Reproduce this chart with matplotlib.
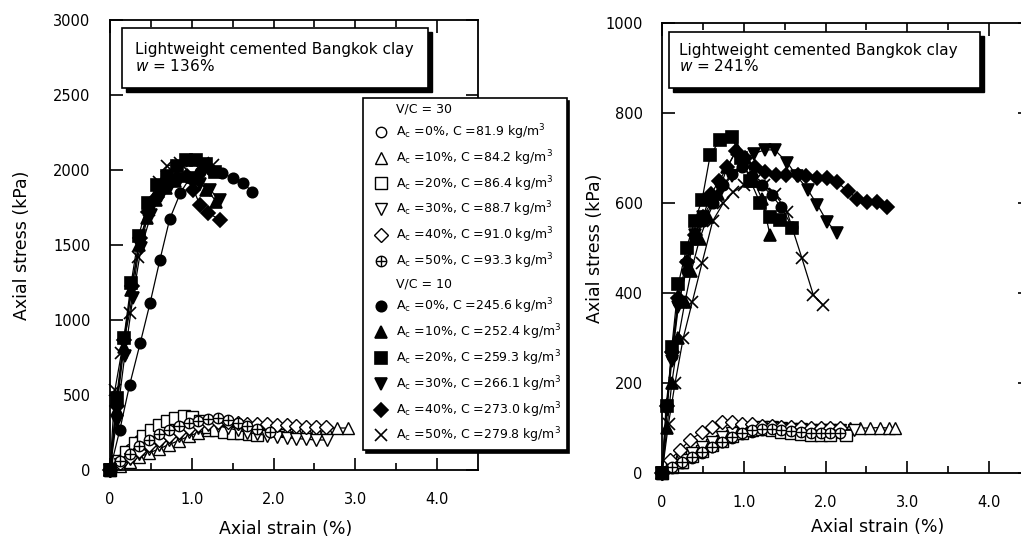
import matplotlib
matplotlib.use('Agg')
import matplotlib.pyplot as plt
from matplotlib.lines import Line2D
from matplotlib.patches import Rectangle
from matplotlib.legend_handler import HandlerTuple

plt.rcParams['font.family'] = ['DejaVu Sans']
plt.rcParams['mathtext.fontset'] = 'dejavusans'

# ==================================================
#   Data : w = 136 %  (left)
# V/C = 30 (open markers)
L30_0_x = [0, 0.12, 0.24, 0.36, 0.48, 0.60, 0.72, 0.84, 0.96, 1.08, 1.20, 1.32, 1.44, 1.56, 1.68, 1.80, 1.96]
L30_0_y = [0, 70, 140, 200, 240, 270, 290, 305, 320, 330, 335, 335, 320, 300, 280, 265, 255]
L30_10_x = [0, 0.12, 0.24, 0.36, 0.48, 0.60, 0.72, 0.84, 0.96, 1.08, 1.20, 1.32, 1.44, 1.56, 1.68, 1.80,
            1.92, 2.04, 2.16, 2.28, 2.40, 2.52, 2.64, 2.77, 2.91]
L30_10_y = [0, 30, 55, 85, 115, 140, 170, 195, 225, 250, 270, 285, 290, 285, 280, 275,
            270, 270, 270, 272, 275, 275, 278, 280, 280]
L30_20_x = [0, 0.1, 0.2, 0.3, 0.4, 0.5, 0.6, 0.7, 0.8, 0.9, 1.0, 1.1, 1.2, 1.3, 1.4, 1.5, 1.6, 1.7, 1.8]
L30_20_y = [0, 60, 120, 180, 230, 270, 300, 330, 350, 360, 355, 330, 290, 265, 255, 250, 245, 240, 235]
L30_30_x = [0, 0.12, 0.24, 0.36, 0.48, 0.60, 0.72, 0.84, 0.96, 1.08, 1.20, 1.32, 1.44, 1.56, 1.68, 1.80,
            1.92, 2.04, 2.16, 2.28, 2.40, 2.52, 2.65]
L30_30_y = [0, 40, 75, 110, 140, 170, 200, 230, 255, 280, 300, 295, 280, 265, 250, 240,
            230, 220, 215, 210, 205, 200, 200]
L30_40_x = [0, 0.12, 0.24, 0.36, 0.48, 0.60, 0.72, 0.84, 0.96, 1.08, 1.20, 1.32, 1.44, 1.56, 1.68, 1.80,
            1.92, 2.04, 2.16, 2.28, 2.40, 2.52, 2.64]
L30_40_y = [0, 45, 90, 130, 165, 200, 230, 255, 280, 300, 315, 320, 320, 315, 310, 305,
            305, 300, 300, 295, 290, 290, 285]
L30_50_x = [0, 0.12, 0.24, 0.36, 0.48, 0.60, 0.72, 0.84, 0.96, 1.08, 1.20, 1.32, 1.44, 1.56, 1.68, 1.80, 1.96]
L30_50_y = [0, 60, 110, 160, 200, 240, 270, 295, 315, 330, 340, 345, 335, 315, 295, 275, 255]
# V/C = 10 (filled markers)
L10_0_x = [0, 0.12, 0.24, 0.37, 0.49, 0.61, 0.73, 0.86, 0.98, 1.10, 1.23, 1.37, 1.50, 1.63, 1.74]
L10_0_y = [0, 267, 567, 847, 1113, 1400, 1673, 1847, 1950, 1990, 2000, 1980, 1947, 1913, 1853]
L10_10_x = [0, 0.08, 0.17, 0.26, 0.35, 0.45, 0.56, 0.68, 0.80, 0.93, 1.05, 1.18, 1.30]
L10_10_y = [0, 400, 820, 1200, 1500, 1680, 1800, 1880, 1930, 1960, 1940, 1870, 1790]
L10_20_x = [0, 0.08, 0.17, 0.26, 0.35, 0.46, 0.58, 0.70, 0.82, 0.93, 1.05, 1.17, 1.28]
L10_20_y = [0, 480, 880, 1250, 1560, 1780, 1900, 1960, 2030, 2070, 2070, 2040, 1990]
L10_30_x = [0, 0.08, 0.18, 0.28, 0.38, 0.50, 0.62, 0.74, 0.86, 0.98, 1.10, 1.22, 1.34]
L10_30_y = [0, 330, 760, 1150, 1480, 1700, 1830, 1900, 1940, 1950, 1910, 1870, 1800]
L10_40_x = [0, 0.08, 0.17, 0.27, 0.37, 0.47, 0.58, 0.70, 0.82, 0.94, 1.02, 1.10, 1.20, 1.34]
L10_40_y = [0, 430, 870, 1230, 1550, 1720, 1820, 1900, 1950, 1960, 1870, 1767, 1713, 1670]
L10_50_x = [0, 0.06, 0.14, 0.24, 0.34, 0.48, 0.60, 0.70, 0.85, 1.00, 1.14, 1.26]
L10_50_y = [0, 533, 780, 1047, 1420, 1733, 1920, 2027, 2050, 2060, 2050, 2033]

# ==================================================
#   Data : w = 241 %  (right)
R30_0_x = [0, 0.12, 0.24, 0.37, 0.49, 0.61, 0.73, 0.86, 0.98, 1.10, 1.22, 1.34, 1.46, 1.58, 1.70, 1.82, 1.94, 2.06, 2.18]
R30_0_y = [0, 12, 22, 33, 45, 57, 68, 78, 86, 91, 95, 96, 95, 93, 90, 88, 89, 89, 90]
R30_10_x = [0, 0.12, 0.24, 0.37, 0.49, 0.61, 0.73, 0.86, 0.98, 1.10, 1.22, 1.34, 1.46, 1.58, 1.70, 1.82,
            1.94, 2.06, 2.18, 2.30, 2.42, 2.54, 2.66, 2.78, 2.85]
R30_10_y = [0, 15, 25, 40, 55, 65, 78, 88, 95, 100, 102, 103, 102, 102, 101, 101,
            100, 100, 101, 101, 100, 100, 101, 100, 100]
R30_20_x = [0, 0.12, 0.24, 0.37, 0.49, 0.61, 0.73, 0.86, 0.98, 1.10, 1.22, 1.34, 1.46, 1.58, 1.70, 1.82, 1.94, 2.06, 2.25]
R30_20_y = [0, 14, 25, 37, 50, 62, 72, 82, 90, 95, 97, 96, 92, 88, 86, 85, 85, 85, 85]
R30_30_x = [0, 0.12, 0.24, 0.37, 0.49, 0.61, 0.73, 0.86, 0.98, 1.10, 1.22, 1.34, 1.46, 1.58, 1.70, 1.82,
            1.94, 2.06, 2.18, 2.35]
R30_30_y = [0, 18, 30, 45, 58, 70, 80, 88, 95, 100, 102, 102, 100, 98, 97, 96, 96, 96, 95, 95]
R30_40_x = [0, 0.10, 0.22, 0.34, 0.49, 0.61, 0.73, 0.86, 0.98, 1.10, 1.22, 1.34, 1.46, 1.58, 1.70, 1.82, 1.94, 2.06, 2.18]
R30_40_y = [0, 30, 51, 73, 91, 102, 113, 113, 110, 108, 105, 105, 103, 102, 102, 101, 100, 100, 100]
R30_50_x = [0, 0.12, 0.24, 0.37, 0.49, 0.61, 0.73, 0.86, 0.98, 1.10, 1.22, 1.34, 1.46, 1.58, 1.70, 1.82, 1.94, 2.06, 2.18]
R30_50_y = [0, 13, 24, 36, 47, 58, 69, 80, 89, 96, 98, 98, 96, 94, 92, 90, 89, 89, 89]
R10_0_x = [0, 0.05, 0.12, 0.20, 0.30, 0.40, 0.50, 0.62, 0.74, 0.86, 0.98, 1.10, 1.22, 1.34, 1.46, 1.59]
R10_0_y = [0, 150, 260, 380, 450, 520, 560, 600, 640, 665, 680, 660, 640, 617, 591, 547]
R10_10_x = [0, 0.06, 0.12, 0.20, 0.28, 0.36, 0.46, 0.56, 0.68, 0.80, 0.92, 1.02, 1.12, 1.22, 1.32]
R10_10_y = [0, 100, 200, 300, 380, 450, 520, 570, 620, 680, 720, 700, 650, 610, 530]
R10_20_x = [0, 0.06, 0.12, 0.20, 0.30, 0.40, 0.49, 0.59, 0.71, 0.85, 0.97, 1.08, 1.20, 1.32, 1.44, 1.59]
R10_20_y = [0, 150, 280, 420, 500, 560, 607, 707, 740, 747, 700, 650, 600, 569, 562, 544]
R10_30_x = [0, 0.06, 0.12, 0.20, 0.30, 0.40, 0.50, 0.60, 0.72, 0.85, 0.98, 1.12, 1.26, 1.38, 1.53, 1.65,
            1.78, 1.90, 2.02, 2.14]
R10_30_y = [0, 140, 250, 370, 460, 530, 570, 600, 630, 660, 690, 710, 718, 718, 690, 660,
            630, 596, 558, 533]
R10_40_x = [0, 0.06, 0.12, 0.20, 0.30, 0.40, 0.50, 0.60, 0.70, 0.80, 0.90, 1.02, 1.14, 1.26, 1.40, 1.52,
            1.66, 1.76, 1.90, 2.02, 2.14, 2.27, 2.39, 2.51, 2.63, 2.75]
R10_40_y = [0, 150, 270, 390, 470, 530, 570, 620, 650, 680, 715, 700, 681, 670, 662, 662,
            662, 659, 655, 655, 647, 626, 610, 603, 603, 591]
R10_50_x = [0, 0.08, 0.16, 0.26, 0.37, 0.49, 0.62, 0.75, 0.87, 1.00, 1.12, 1.25, 1.38, 1.53, 1.71, 1.85, 1.97]
R10_50_y = [0, 110, 200, 300, 380, 467, 560, 600, 624, 640, 650, 640, 620, 580, 478, 396, 373]

# legend text
labels30 = [r'A$_\mathrm{c}$ =0%, C =81.9 kg/m$^3$', r'A$_\mathrm{c}$ =10%, C =84.2 kg/m$^3$',
            r'A$_\mathrm{c}$ =20%, C =86.4 kg/m$^3$', r'A$_\mathrm{c}$ =30%, C =88.7 kg/m$^3$',
            r'A$_\mathrm{c}$ =40%, C =91.0 kg/m$^3$', r'A$_\mathrm{c}$ =50%, C =93.3 kg/m$^3$']
labels10 = [r'A$_\mathrm{c}$ =0%, C =245.6 kg/m$^3$', r'A$_\mathrm{c}$ =10%, C =252.4 kg/m$^3$',
            r'A$_\mathrm{c}$ =20%, C =259.3 kg/m$^3$', r'A$_\mathrm{c}$ =30%, C =266.1 kg/m$^3$',
            r'A$_\mathrm{c}$ =40%, C =273.0 kg/m$^3$', r'A$_\mathrm{c}$ =50%, C =279.8 kg/m$^3$']

markers = ['o', '^', 's', 'v', 'D', 'x']
msizes = [7.5, 8.5, 8, 8.5, 7.5, 9]

# ==================================================
fig = plt.figure(figsize=(10.21, 5.56), dpi=100)
axL = fig.add_axes([110/1021, 86/556, 368/1021, 450/556])
axR = fig.add_axes([662/1021, 83/556, 368/1021, 450/556])


def draw(ax, open_sets, filled_sets):
    for i, (x, y) in enumerate(open_sets):
        m = markers[i]
        if i == 5:
            ax.plot(x, y, '-', color='k', lw=0.9, marker='o', ms=7.5, mfc='white', mec='k', mew=1, clip_on=False)
            ax.plot(x, y, 'none', marker='+', ms=7.5, mec='k', mew=1, clip_on=False)
        else:
            ax.plot(x, y, '-', color='k', lw=0.9, marker=m, ms=msizes[i], mfc='white', mec='k', mew=1,
                    clip_on=False)
    for i, (x, y) in enumerate(filled_sets):
        m = markers[i]
        ax.plot(x, y, '-', color='k', lw=0.9, marker=m, ms=msizes[i], mfc='k', mec='k', mew=1.2,
                clip_on=False)


draw(axL,
     [(L30_0_x, L30_0_y), (L30_10_x, L30_10_y), (L30_20_x, L30_20_y),
      (L30_30_x, L30_30_y), (L30_40_x, L30_40_y), (L30_50_x, L30_50_y)],
     [(L10_0_x, L10_0_y), (L10_10_x, L10_10_y), (L10_20_x, L10_20_y),
      (L10_30_x, L10_30_y), (L10_40_x, L10_40_y), (L10_50_x, L10_50_y)])
draw(axR,
     [(R30_0_x, R30_0_y), (R30_10_x, R30_10_y), (R30_20_x, R30_20_y),
      (R30_30_x, R30_30_y), (R30_40_x, R30_40_y), (R30_50_x, R30_50_y)],
     [(R10_0_x, R10_0_y), (R10_10_x, R10_10_y), (R10_20_x, R10_20_y),
      (R10_30_x, R10_30_y), (R10_40_x, R10_40_y), (R10_50_x, R10_50_y)])

# axes styling
for ax, ymax, ystep in [(axL, 3000, 500), (axR, 1000, 200)]:
    ax.set_xlim(0, 4.5)
    ax.set_ylim(0, ymax)
    ax.set_xticks([0, 1, 2, 3, 4])
    ax.set_xticklabels(['0', '1.0', '2.0', '3.0', '4.0'])
    ax.set_xticks([0.5, 1.5, 2.5, 3.5], minor=True)
    ax.set_yticks(list(range(0, ymax + 1, ystep)))
    ax.tick_params(which='major', direction='in', length=9, width=1.2, top=True, right=True,
                   labelsize=10.5, pad=14)
    ax.tick_params(which='minor', direction='in', length=5, width=1.2, top=True)
    ax.tick_params(axis='x', which='major', pad=16)
    for s in ax.spines.values():
        s.set_linewidth(1.3)
    ax.set_ylabel('Axial stress (kPa)', fontsize=12.5)
    ax.set_xlabel('Axial strain (%)', fontsize=12.5)

axL.yaxis.set_label_coords(-0.215, 0.5)
axL.xaxis.set_label_coords(0.476, -0.11)
axR.yaxis.set_label_coords(-0.158, 0.5)
axR.xaxis.set_label_coords(0.587, -0.10)


def textbox(ax, x0, y0, w, h, line1, line2, ty1, ty2, tx):
    sh = Rectangle((x0 + 0.011, y0 - 0.009), w, h, transform=ax.transAxes, facecolor='k',
                   edgecolor='k', zorder=10)
    bx = Rectangle((x0, y0), w, h, transform=ax.transAxes, facecolor='white',
                   edgecolor='k', lw=1.2, zorder=11)
    ax.add_patch(sh)
    ax.add_patch(bx)
    ax.text(tx, ty1, line1, transform=ax.transAxes, fontsize=11, va='center', ha='left', zorder=12)
    ax.text(tx, ty2, line2, transform=ax.transAxes, fontsize=11, va='center', ha='left', zorder=12)


textbox(axL, 0.0326, 0.849, 0.8315, 0.133, 'Lightweight cemented Bangkok clay', r'$w$ = 136%',
        0.935, 0.898, 0.068)
textbox(axR, 0.019, 0.8556, 0.845, 0.124, 'Lightweight cemented Bangkok clay', r'$w$ = 241%',
        0.94, 0.904, 0.046)

# legend
handles, labels = [], []
handles.append(Line2D([], [], ls='none'))
labels.append('V/C = 30')
for i in range(6):
    if i == 5:
        h1 = Line2D([], [], ls='none', marker='o', ms=7.5, mfc='white', mec='k')
        h2 = Line2D([], [], ls='none', marker='+', ms=7.5, mec='k')
        handles.append((h1, h2))
    else:
        handles.append(Line2D([], [], ls='none', marker=markers[i], ms=msizes[i], mfc='white', mec='k'))
    labels.append(labels30[i])
handles.append(Line2D([], [], ls='none'))
labels.append('V/C = 10')
for i in range(6):
    handles.append(Line2D([], [], ls='none', marker=markers[i], ms=msizes[i], mfc='k', mec='k', mew=1.2))
    labels.append(labels10[i])

leg = axL.legend(handles, labels, loc='upper left', bbox_to_anchor=((363 - 110) / 368, (470 - 98) / 450),
                 borderaxespad=0, fontsize=9, handlelength=2.0, handletextpad=0.25, labelspacing=0.5,
                 borderpad=0.4, fancybox=False, edgecolor='k', framealpha=1,
                 shadow={'color': 'k', 'alpha': 1}, handler_map={tuple: HandlerTuple(ndivide=1)})
leg.get_frame().set_linewidth(1.2)
leg.set_zorder(20)

plt.savefig('out.png', dpi=100)
